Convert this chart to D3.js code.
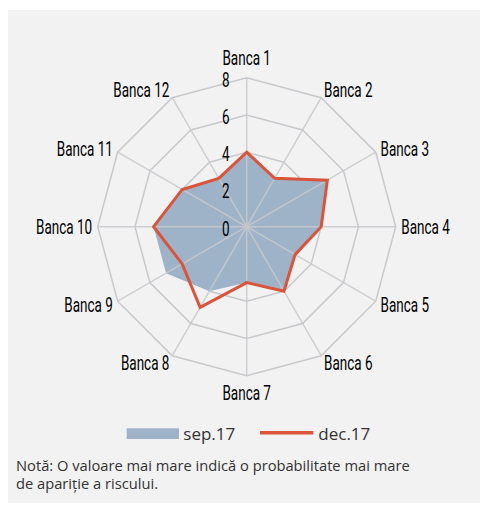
<!DOCTYPE html>
<html><head><meta charset="utf-8">
<script src="https://cdn.jsdelivr.net/npm/d3@7"></script>
<style>
html,body{margin:0;padding:0;background:#fff;}
svg{display:block;}
</style></head>
<body>
<script>
const categories = ["Banca 1","Banca 2","Banca 3","Banca 4","Banca 5","Banca 6","Banca 7","Banca 8","Banca 9","Banca 10","Banca 11","Banca 12"];
const sep17 = [4,3,5,4,3,4,3,4,5,5,4,3];
const dec17 = [4,3,5,4,3,4,3,5,4,5,4,3];
const ticks = [0,2,4,6,8];
const seriesNames = ["sep.17","dec.17"];
const noteLines = ["Notă: O valoare mai mare indică o probabilitate mai mare","de apariție a riscului."];

const W = 480, H = 507;
const cx = 246.7, cy = 226.7, R = 149;
const svg = d3.select("body").append("svg").attr("width", W).attr("height", H);

svg.append("rect").attr("x",8).attr("y",10).attr("width",472).attr("height",493).attr("fill","#f2f2f2");

const r = d3.scaleLinear().domain([0,8]).range([0,R]);
const ang = d3.scalePoint().domain(categories).range([0, 2*Math.PI*(categories.length-1)/categories.length]);
const labFont = "Roboto, 'Liberation Sans', sans-serif";
const labSize = 19.5;

// measure horizontal compression so the labels look condensed
const probe = svg.append("text").attr("font-family",labFont).attr("font-size",labSize).text("Banca 1");
const kx = 48.5 / probe.node().getComputedTextLength();
probe.remove();

const g = svg.append("g").attr("transform",`translate(${cx},${cy})`);
const radial = d3.lineRadial().angle((d,i)=>ang(categories[i])).radius(d=>r(d)).curve(d3.curveLinearClosed);

// rings
g.append("g").selectAll("path").data(ticks.filter(t=>t>0)).join("path")
  .attr("d", t => radial(categories.map(()=>t)))
  .attr("fill","none").attr("stroke","#c8c9cc").attr("stroke-width",1.5);

// sep.17 fill
g.append("path").attr("d", radial(sep17)).attr("fill","#9fb3c8");

// spokes
g.append("g").selectAll("line").data(categories).join("line")
  .attr("x1",0).attr("y1",0)
  .attr("x2",d=>r(8)*Math.sin(ang(d))).attr("y2",d=>-r(8)*Math.cos(ang(d)))
  .attr("stroke","#c8c9cc").attr("stroke-opacity",0.85).attr("stroke-width",1.5);

// dec.17 line
g.append("path").attr("d", radial(dec17)).attr("fill","none")
  .attr("stroke","#d9543a").attr("stroke-width",3).attr("stroke-linejoin","miter");

// tick labels
g.append("g").selectAll("g").data(ticks).join("g")
  .attr("transform",t=>`translate(-17,${-r(t)+2}) scale(${kx},1)`)
  .append("text")
  .attr("text-anchor","end").attr("dominant-baseline","central")
  .attr("font-family",labFont).attr("font-size",labSize).attr("fill","#000")
  .text(t=>t);

// category labels
g.append("g").selectAll("g").data(categories).join("g")
  .each(function(d){
    const a = ang(d), s = Math.sin(a), c = Math.cos(a);
    const rr = R + 5.6;
    let x = rr*s, y = -rr*c, anchor;
    if (Math.abs(s) < 0.01) { anchor = "middle"; y += (c > 0 ? -14 : 12); }
    else { anchor = s > 0 ? "start" : "end"; y += -Math.pow(c,3)*4.3; }
    d3.select(this).attr("transform",`translate(${x},${y}) scale(${kx},1)`)
      .append("text").attr("text-anchor",anchor)
      .attr("dominant-baseline","central")
      .attr("font-family",labFont).attr("font-size",labSize).attr("fill","#000")
      .text(d);
  });

// legend
const leg = svg.append("g");
leg.append("rect").attr("x",126.7).attr("y",428.3).attr("width",52.3).attr("height",10.7).attr("fill","#9fb3c8");
leg.append("text").attr("x",183.3).attr("y",433.5).attr("dominant-baseline","central")
  .attr("font-family","'Open Sans',sans-serif").attr("font-size",17).attr("fill","#333").text(seriesNames[0]);
leg.append("line").attr("x1",260).attr("x2",313.3).attr("y1",432.7).attr("y2",432.7)
  .attr("stroke","#d9543a").attr("stroke-width",3.5);
leg.append("text").attr("x",318.3).attr("y",433.5).attr("dominant-baseline","central")
  .attr("font-family","'Open Sans',sans-serif").attr("font-size",17).attr("fill","#333").text(seriesNames[1]);

// note
svg.append("g").selectAll("text").data(noteLines).join("text")
  .attr("x",16).attr("y",(d,i)=>465+i*18).attr("dominant-baseline","central")
  .attr("font-family","'Open Sans',sans-serif").attr("font-size",14.7).attr("fill","#333")
  .text(d=>d);
</script>
</body></html>
